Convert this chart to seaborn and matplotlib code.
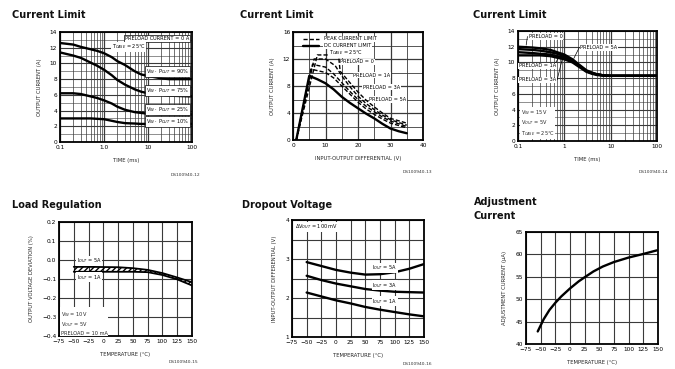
import numpy as np
import pandas as pd
import matplotlib
matplotlib.use("Agg")
import matplotlib.pyplot as plt
import seaborn as sns

sns.set_style("white")
plt.rcParams['font.family'] = ['DejaVu Sans']

# ---------------- data ----------------
# Panel 1: current limit vs time
t1 = [0.1, 0.2, 0.3, 0.5, 0.7, 1, 1.5, 2, 3, 5, 7, 10, 20, 30, 100]
cl1_a = [12.6, 12.4, 12.1, 11.8, 11.6, 11.3, 10.8, 10.3, 9.8, 9.0, 8.6, 8.4, 8.1, 8.0, 8.0]
cl1_b = [11.4, 11.0, 10.7, 10.1, 9.7, 9.2, 8.5, 7.9, 7.3, 6.7, 6.4, 6.2, 6.0, 5.9, 5.8]
cl1_c = [6.2, 6.2, 6.1, 5.8, 5.6, 5.3, 4.9, 4.5, 4.1, 3.8, 3.7, 3.6, 3.5, 3.5, 3.5]
cl1_d = [3.0, 3.0, 3.0, 3.0, 2.95, 2.9, 2.7, 2.55, 2.4, 2.35, 2.3, 2.3, 2.3, 2.3, 2.3]
p1_labels = ["V$_{IN}$ · P$_{OUT}$ = 90%", "V$_{IN}$ · P$_{OUT}$ = 75%",
             "V$_{IN}$ · P$_{OUT}$ = 25%", "V$_{IN}$ · P$_{OUT}$ = 10%"]

# Panel 2: current limit vs input-output differential
v2_dc = [1, 5, 7.5, 10, 12.5, 15, 17.5, 20, 22.5, 25, 27.5, 30, 32.5, 35]
i2_dc = [0, 9.5, 9.0, 8.4, 7.5, 6.4, 5.5, 4.7, 3.9, 3.2, 2.4, 1.7, 1.3, 1.0]
v2_a = [1, 7.5, 14, 14.5, 17.5, 20, 22.5, 25, 27.5, 30, 35]
i2_a = [0, 12.6, 12.6, 10.2, 8.5, 7.1, 5.9, 4.9, 4.0, 3.2, 2.5]
v2_b = [1, 6.5, 10, 13, 15, 17.5, 20, 22.5, 25, 27.5, 30, 35]
i2_b = [0, 12.0, 12.0, 11.0, 9.5, 7.9, 6.5, 5.4, 4.5, 3.7, 3.0, 2.2]
v2_c = [1, 6, 10, 12.5, 15, 17.5, 20, 22.5, 25, 27.5, 30, 35]
i2_c = [0, 11.2, 10.8, 9.8, 8.5, 7.2, 6.0, 5.0, 4.2, 3.4, 2.8, 2.0]
v2_d = [1, 5.5, 10, 12.5, 15, 17.5, 20, 22.5, 25, 27.5, 30, 35]
i2_d = [0, 10.5, 10.0, 9.2, 8.0, 6.8, 5.6, 4.6, 3.8, 3.1, 2.5, 1.8]

# Panel 3: current limit vs time, preload
t3 = [0.1, 0.2, 0.3, 0.5, 0.7, 1, 1.5, 2, 3, 4, 5, 7, 10, 100]
cl3_a = [12.0, 11.9, 11.8, 11.6, 11.3, 11.0, 10.4, 9.8, 9.0, 8.7, 8.5, 8.35, 8.3, 8.3]
cl3_b = [11.7, 11.6, 11.5, 11.3, 11.1, 10.8, 10.3, 9.7, 8.9, 8.6, 8.5, 8.35, 8.3, 8.3]
cl3_c = [11.3, 11.2, 11.1, 11.0, 10.8, 10.6, 10.1, 9.6, 8.9, 8.6, 8.5, 8.35, 8.3, 8.3]
cl3_d = [10.9, 10.9, 10.9, 10.8, 10.6, 10.4, 10.0, 9.5, 8.8, 8.55, 8.4, 8.3, 8.3, 8.3]

# Panel 4: load regulation vs temperature
temp4 = [-50, -25, 0, 25, 50, 75, 100, 125, 150]
lr_top = [-0.036, -0.036, -0.037, -0.038, -0.043, -0.052, -0.069, -0.092, -0.117]
lr_bot = [-0.062, -0.062, -0.062, -0.062, -0.062, -0.064, -0.079, -0.102, -0.134]

# Panel 5: dropout voltage vs temperature
temp5 = [-50, -25, 0, 25, 50, 75, 100, 125, 150]
do_5a = [2.92, 2.82, 2.72, 2.65, 2.60, 2.61, 2.66, 2.75, 2.87]
do_3a = [2.57, 2.46, 2.37, 2.30, 2.23, 2.19, 2.16, 2.15, 2.14]
do_1a = [2.14, 2.04, 1.94, 1.86, 1.77, 1.70, 1.64, 1.58, 1.53]

# Panel 6: adjustment current vs temperature
temp6 = [-55, -45, -35, -25, -15, 0, 15, 25, 40, 56, 75, 100, 125, 148]
adj6 = [42.8, 45.5, 47.6, 49.2, 50.6, 52.4, 54.0, 54.9, 56.2, 57.3, 58.3, 59.3, 60.1, 60.9]

temp_ticks = [-75, -50, -25, 0, 25, 50, 75, 100, 125, 150]

# ---------------- layout ----------------
W, H = 675, 369
fig = plt.figure(figsize=(W / 100, H / 100), dpi=100)
fig.patch.set_facecolor("white")


def rect(x0, y0, x1, y1):
    return [x0 / W, 1 - y1 / H, (x1 - x0) / W, (y1 - y0) / H]


TICK_FS = 4.2
LAB_FS = 3.8
TXT_FS = 3.6
GRID_C = "#3a3a3a"
LW = 1.7


def style_ax(ax):
    for s in ax.spines.values():
        s.set_linewidth(1.3)
        s.set_color("black")
    ax.tick_params(labelsize=TICK_FS, length=0, pad=2, colors="black")
    ax.set_facecolor("white")


def line(ax, x, y, **kw):
    df = pd.DataFrame({"x": x, "y": y})
    sns.lineplot(data=df, x="x", y="y", ax=ax, color="black", sort=False,
                 estimator=None, **kw)


def title(x, y, s):
    fig.text(x / W, 1 - y / H, s, fontsize=7, fontweight="bold",
             va="center", ha="left", color="#111111")


def code(x, y, s):
    fig.text(x / W, 1 - y / H, s, fontsize=3.2, va="center", ha="right",
             color="#333333")


def boxed(ax, x, y, s, **kw):
    ax.text(x, y, s, fontsize=TXT_FS, color="black", va="center",
            bbox=dict(facecolor="white", edgecolor="black", lw=0.5, pad=0.8),
            zorder=5, **kw)


def plain(ax, x, y, s, **kw):
    ax.text(x, y, s, fontsize=TXT_FS, color="black", va="center",
            bbox=dict(facecolor="white", edgecolor="none", pad=0.4),
            zorder=5, **kw)


def log_grid(ax):
    for dec in [0.1, 1, 10]:
        for m in range(1, 10):
            v = dec * m
            ax.axvline(v, color=GRID_C, lw=0.9 if m == 1 else 0.5, zorder=0)


# ---------------- Panel 1 ----------------
ax1 = fig.add_axes(rect(60, 32, 192, 142))
style_ax(ax1)
ax1.set_xscale("log")
ax1.set_xlim(0.1, 100)
ax1.set_ylim(0, 14)
log_grid(ax1)
for v in range(0, 15, 1):
    ax1.axhline(v, color=GRID_C, lw=0.8 if v % 2 == 0 else 0.4, zorder=0)
for ys, lab, ly in zip([cl1_a, cl1_b, cl1_c, cl1_d], p1_labels,
                       [9.0, 6.6, 4.1, 2.6]):
    line(ax1, t1, ys, lw=LW)
    boxed(ax1, 85, ly, lab, ha="right")
boxed(ax1, 85, 13.2, "PRELOAD CURRENT = 0 A", ha="right")
plain(ax1, 1.5, 12.1, "T$_{CASE}$ = 25°C", ha="left")
ax1.set_xticks([0.1, 1, 10, 100])
ax1.set_xticklabels(["0.1", "1.0", "10", "100"])
ax1.xaxis.set_minor_locator(matplotlib.ticker.NullLocator())
ax1.set_yticks(range(0, 15, 2))
ax1.set_xlabel("TIME (ms)", fontsize=LAB_FS, labelpad=6)
ax1.set_ylabel("OUTPUT CURRENT (A)", fontsize=LAB_FS, labelpad=6)
title(12, 15, "Current Limit")
code(200, 175, "DS100940-12")

# ---------------- Panel 2 ----------------
ax2 = fig.add_axes(rect(293, 32, 423, 140))
style_ax(ax2)
ax2.set_xlim(0, 40)
ax2.set_ylim(0, 16)
for v in range(0, 41, 5):
    ax2.axvline(v, color=GRID_C, lw=0.9 if v % 10 == 0 else 0.6, zorder=0)
for v in range(0, 17, 2):
    ax2.axhline(v, color=GRID_C, lw=0.9 if v % 4 == 0 else 0.6, zorder=0)
line(ax2, v2_dc, i2_dc, lw=LW)
for vx, iy in [(v2_a, i2_a), (v2_b, i2_b), (v2_c, i2_c), (v2_d, i2_d)]:
    line(ax2, vx, iy, lw=1.0, linestyle=(0, (3, 1.5)))
ax2.plot([3, 8], [15, 15], color="black", lw=1.0, ls=(0, (3, 1.5)))
ax2.plot([3, 8], [14, 14], color="black", lw=LW)
plain(ax2, 9.5, 15, "PEAK CURRENT LIMIT")
plain(ax2, 9.5, 14, "DC CURRENT LIMIT")
plain(ax2, 11, 12.9, "T$_{CASE}$ = 25°C")
for (x, y, s) in [(14.5, 11.6, "PRELOAD = 0"), (18.5, 9.6, "PRELOAD = 1A"),
                  (21.5, 7.8, "PRELOAD = 3A"), (23.5, 6.0, "PRELOAD = 5A")]:
    plain(ax2, x, y, s)
ax2.set_xticks(range(0, 41, 10))
ax2.set_yticks(range(0, 17, 4))
ax2.set_xlabel("INPUT-OUTPUT DIFFERENTIAL (V)", fontsize=LAB_FS, labelpad=6)
ax2.set_ylabel("OUTPUT CURRENT (A)", fontsize=LAB_FS, labelpad=6)
title(240, 15, "Current Limit")
code(432, 172, "DS100940-13")

# ---------------- Panel 3 ----------------
ax3 = fig.add_axes(rect(518, 31, 657, 141))
style_ax(ax3)
ax3.set_xscale("log")
ax3.set_xlim(0.1, 100)
ax3.set_ylim(0, 14)
log_grid(ax3)
for v in range(0, 15, 1):
    ax3.axhline(v, color=GRID_C, lw=0.8 if v % 2 == 0 else 0.4, zorder=0)
for ys in [cl3_a, cl3_b, cl3_c, cl3_d]:
    line(ax3, t3, ys, lw=LW)
for (x, y, s) in [(0.17, 13.3, "PRELOAD = 0"), (2.2, 11.9, "PRELOAD = 5A"),
                  (0.105, 9.6, "PRELOAD = 1A"), (0.105, 7.8, "PRELOAD = 3A")]:
    plain(ax3, x, y, s)
ax3.plot([0.16, 0.15], [13.3, 12.2], color="black", lw=0.5)
ax3.plot([2.1, 1.6], [11.9, 10.5], color="black", lw=0.5)
ax3.plot([0.6, 0.75], [9.6, 10.6], color="black", lw=0.5)
ax3.plot([0.7, 0.9], [7.8, 10.4], color="black", lw=0.5)
ax3.text(0.115, 2.3, "V$_{IN}$ = 15V\nV$_{OUT}$ = 5V\nT$_{CASE}$ = 25°C",
         fontsize=TXT_FS, va="center", linespacing=1.3,
         bbox=dict(facecolor="white", edgecolor="none", pad=0.4), zorder=5)
ax3.set_xticks([0.1, 1, 10, 100])
ax3.set_xticklabels(["0.1", "1", "10", "100"])
ax3.xaxis.set_minor_locator(matplotlib.ticker.NullLocator())
ax3.set_yticks(range(0, 15, 2))
ax3.set_xlabel("TIME (ms)", fontsize=LAB_FS, labelpad=6)
ax3.set_ylabel("OUTPUT CURRENT (A)", fontsize=LAB_FS, labelpad=6)
title(473, 15, "Current Limit")
code(668, 172, "DS100940-14")

# ---------------- Panel 4 ----------------
ax4 = fig.add_axes(rect(59, 222, 192, 336))
style_ax(ax4)
ax4.set_xlim(-75, 150)
ax4.set_ylim(-0.4, 0.2)
for v in temp_ticks:
    ax4.axvline(v, color=GRID_C, lw=0.8, zorder=0)
for v in np.arange(-0.4, 0.21, 0.1):
    ax4.axhline(v, color=GRID_C, lw=0.8, zorder=0)
line(ax4, temp4, lr_top, lw=1.3)
line(ax4, temp4, lr_bot, lw=1.3)
ax4.fill_between(temp4, lr_top, lr_bot, facecolor="none",
                 edgecolor="black", hatch="//////", lw=0)
plain(ax4, -45, -0.003, "I$_{OUT}$ = 5A")
plain(ax4, -45, -0.09, "I$_{OUT}$ = 1A")
ax4.text(-72, -0.33, "V$_{IN}$ = 10V\nV$_{OUT}$ = 5V\nPRELOAD = 10 mA",
         fontsize=TXT_FS, va="center", linespacing=1.3,
         bbox=dict(facecolor="white", edgecolor="none", pad=0.4), zorder=5)
ax4.set_xticks(temp_ticks)
ax4.set_yticks(np.round(np.arange(-0.4, 0.21, 0.1), 1))
ax4.set_xlabel("TEMPERATURE (°C)", fontsize=LAB_FS, labelpad=6)
ax4.set_ylabel("OUTPUT VOLTAGE DEVIATION (%)", fontsize=LAB_FS, labelpad=6)
title(12, 205, "Load Regulation")
code(198, 362, "DS100940-15")

# ---------------- Panel 5 ----------------
ax5 = fig.add_axes(rect(292, 220, 424, 337))
style_ax(ax5)
ax5.set_xlim(-75, 150)
ax5.set_ylim(1, 4)
for v in temp_ticks:
    ax5.axvline(v, color=GRID_C, lw=0.8, zorder=0)
for v in np.arange(1, 4.01, 0.5):
    ax5.axhline(v, color=GRID_C, lw=0.8, zorder=0)
for ys in [do_5a, do_3a, do_1a]:
    line(ax5, temp5, ys, lw=LW)
for (y, s) in [(2.78, "I$_{OUT}$ = 5A"), (2.33, "I$_{OUT}$ = 3A"),
               (1.92, "I$_{OUT}$ = 1A")]:
    plain(ax5, 62, y, s)
plain(ax5, -70, 3.82, "ΔV$_{OUT}$ = 100 mV")
ax5.set_xticks(temp_ticks)
ax5.set_yticks([1, 2, 3, 4])
ax5.set_xlabel("TEMPERATURE (°C)", fontsize=LAB_FS, labelpad=6)
ax5.set_ylabel("INPUT-OUTPUT DIFFERENTIAL (V)", fontsize=LAB_FS, labelpad=6)
title(242, 205, "Dropout Voltage")
code(432, 364, "DS100940-16")

# ---------------- Panel 6 ----------------
ax6 = fig.add_axes(rect(526, 232, 658, 344))
style_ax(ax6)
ax6.set_xlim(-75, 150)
ax6.set_ylim(40, 65)
for v in temp_ticks:
    ax6.axvline(v, color=GRID_C, lw=0.8, zorder=0)
for v in range(40, 66, 5):
    ax6.axhline(v, color=GRID_C, lw=0.8, zorder=0)
line(ax6, temp6, adj6, lw=LW)
ax6.set_xticks(temp_ticks)
ax6.set_yticks(range(40, 66, 5))
ax6.set_xlabel("TEMPERATURE (°C)", fontsize=LAB_FS, labelpad=6)
ax6.set_ylabel("ADJUSTMENT CURRENT (µA)", fontsize=LAB_FS, labelpad=6)
fig.text(474 / W, 1 - 202 / H, "Adjustment", fontsize=7, fontweight="bold",
         va="center", ha="left", color="#111111")
fig.text(474 / W, 1 - 216 / H, "Current", fontsize=7, fontweight="bold",
         va="center", ha="left", color="#111111")

fig.savefig("out.png", dpi=100, facecolor="white")
